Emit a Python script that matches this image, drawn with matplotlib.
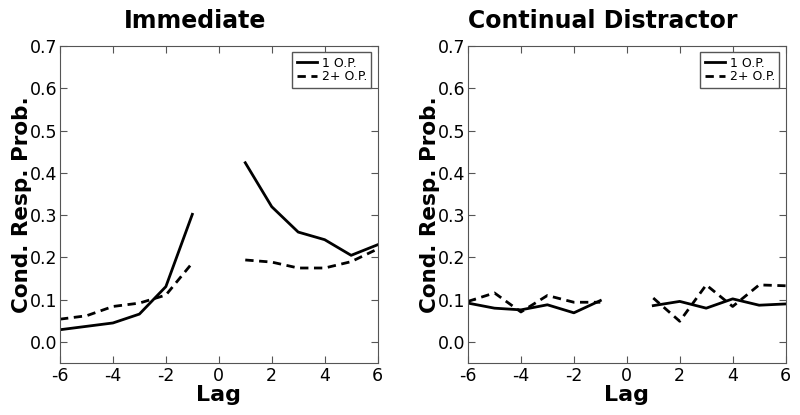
import matplotlib
matplotlib.use('Agg')
import matplotlib.pyplot as plt

plt.rcParams['axes.unicode_minus'] = False

lags_neg = [-6, -5, -4, -3, -2, -1]
lags_pos = [1, 2, 3, 4, 5, 6]

imm_one_neg = [0.029, 0.037, 0.045, 0.066, 0.131, 0.302]
imm_one_pos = [0.424, 0.320, 0.260, 0.242, 0.205, 0.230]
imm_two_neg = [0.054, 0.062, 0.084, 0.092, 0.111, 0.187]
imm_two_pos = [0.194, 0.189, 0.175, 0.175, 0.190, 0.220]

cd_one_neg = [0.092, 0.080, 0.076, 0.088, 0.069, 0.098]
cd_one_pos = [0.086, 0.096, 0.080, 0.102, 0.087, 0.090]
cd_two_neg = [0.096, 0.116, 0.071, 0.110, 0.094, 0.094]
cd_two_pos = [0.104, 0.049, 0.135, 0.084, 0.135, 0.133]

titles = ['Immediate', 'Continual Distractor']
yticks = [0.0, 0.1, 0.2, 0.3, 0.4, 0.5, 0.6, 0.7]
xticks = [-6, -4, -2, 0, 2, 4, 6]

fig = plt.figure(figsize=(8, 4.15), dpi=100)
ax1 = fig.add_axes([0.075, 0.125, 0.397, 0.764])
ax2 = fig.add_axes([0.585, 0.125, 0.397, 0.764])

panels = [(ax1, imm_one_neg, imm_one_pos, imm_two_neg, imm_two_pos),
          (ax2, cd_one_neg, cd_one_pos, cd_two_neg, cd_two_pos)]

for i, (ax, o_n, o_p, t_n, t_p) in enumerate(panels):
    ax.plot(lags_neg, o_n, color='black', lw=2, label='1 O.P.')
    ax.plot(lags_pos, o_p, color='black', lw=2)
    ax.plot(lags_neg, t_n, color='black', lw=2, ls=(0, (3, 2)), label='2+ O.P.')
    ax.plot(lags_pos, t_p, color='black', lw=2, ls=(0, (3, 2)))
    ax.set_xlim(-6, 6)
    ax.set_ylim(-0.05, 0.7)
    ax.set_xticks(xticks)
    ax.set_yticks(yticks)
    ax.set_yticklabels(['%.1f' % v for v in yticks])
    ax.tick_params(direction='in', top=True, right=True, labelsize=12.5,
                   length=5, color='#555555', pad=3)
    ax.tick_params(axis='y', pad=2)
    for s in ax.spines.values():
        s.set_color('#555555')
    ax.set_xlabel('Lag', fontsize=16, fontweight='bold', labelpad=0)
    ax.set_ylabel('Cond. Resp. Prob.', fontsize=15.5, fontweight='bold')
    ax.yaxis.set_label_coords(-0.088, 0.5)
    ax.set_title(titles[i], fontsize=17, fontweight='bold', pad=13, x=0.425)
    leg = ax.legend(loc='upper right', fontsize=9, handlelength=1.6, borderpad=0.35,
                    labelspacing=0.05, handletextpad=0.4, fancybox=False,
                    framealpha=1)
    leg.get_frame().set_edgecolor('#555555')

fig.savefig('out.png', dpi=100)
